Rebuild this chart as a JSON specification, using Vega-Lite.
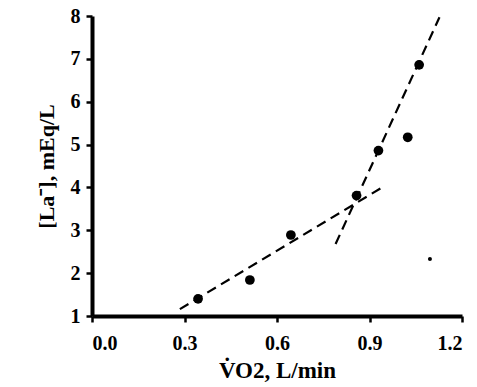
{
  "$schema": "https://vega.github.io/schema/vega-lite/v6.json",
  "width": 370,
  "height": 300,
  "autosize": {"type": "none"},
  "padding": {"left": 92, "top": 16, "right": 15, "bottom": 71},
  "background": "white",
  "config": {"view": {"stroke": null}, "axis": {"grid": false}},
  "datasets": {
    "obs": [
      {"vo2": 0.344, "la": 1.40},
      {"vo2": 0.512, "la": 1.84},
      {"vo2": 0.645, "la": 2.89},
      {"vo2": 0.858, "la": 3.81},
      {"vo2": 0.929, "la": 4.86},
      {"vo2": 1.024, "la": 5.17},
      {"vo2": 1.061, "la": 6.86}
    ],
    "specks": [
      {"vo2": 1.096, "la": 2.33}
    ],
    "fits": [
      {"segment": "below threshold", "vo2": 0.285, "la": 1.16},
      {"segment": "below threshold", "vo2": 0.950, "la": 4.04},
      {"segment": "above threshold", "vo2": 0.790, "la": 2.68},
      {"segment": "above threshold", "vo2": 1.127, "la": 7.97}
    ]
  },
  "encoding": {
    "x": {
      "field": "vo2", "type": "quantitative",
      "scale": {"domain": [0, 1.2], "nice": false, "zero": false},
      "axis": {
        "values": [0, 0.3, 0.6, 0.9, 1.2], "format": ".1f", "title": "V̇O2, L/min",
        "domainWidth": 4, "domainColor": "black",
        "tickWidth": 2.5, "tickColor": "black", "tickSize": 6,
        "labelFontSize": 20, "labelColor": "black", "labelFont": "Liberation Serif", "labelFontWeight": "bold", "labelPadding": 11,
        "titleFontSize": 23, "titleColor": "black", "titleFont": "Liberation Serif", "titleFontWeight": "bold", "titlePadding": 6
      }
    },
    "y": {
      "field": "la", "type": "quantitative",
      "scale": {"domain": [1, 8], "nice": false, "zero": false},
      "axis": {
        "values": [1, 2, 3, 4, 5, 6, 7, 8], "title": "[La⁻], mEq/L",
        "domainWidth": 4, "domainColor": "black",
        "tickWidth": 2.5, "tickColor": "black", "tickSize": 6,
        "labelFontSize": 20, "labelColor": "black", "labelFont": "Liberation Serif", "labelFontWeight": "bold", "labelPadding": 6,
        "titleFontSize": 22, "titleColor": "black", "titleFont": "Liberation Serif", "titleFontWeight": "bold", "titlePadding": 12
      }
    }
  },
  "layer": [
    {
      "data": {"name": "fits"},
      "mark": {"type": "line", "color": "black", "strokeWidth": 2.2, "strokeDash": [10, 6]},
      "encoding": {"detail": {"field": "segment"}}
    },
    {
      "data": {"name": "obs"},
      "mark": {"type": "point", "filled": true, "color": "black", "opacity": 1, "size": 95}
    },
    {
      "data": {"name": "specks"},
      "mark": {"type": "point", "filled": true, "color": "black", "opacity": 1, "size": 16}
    }
  ]
}
